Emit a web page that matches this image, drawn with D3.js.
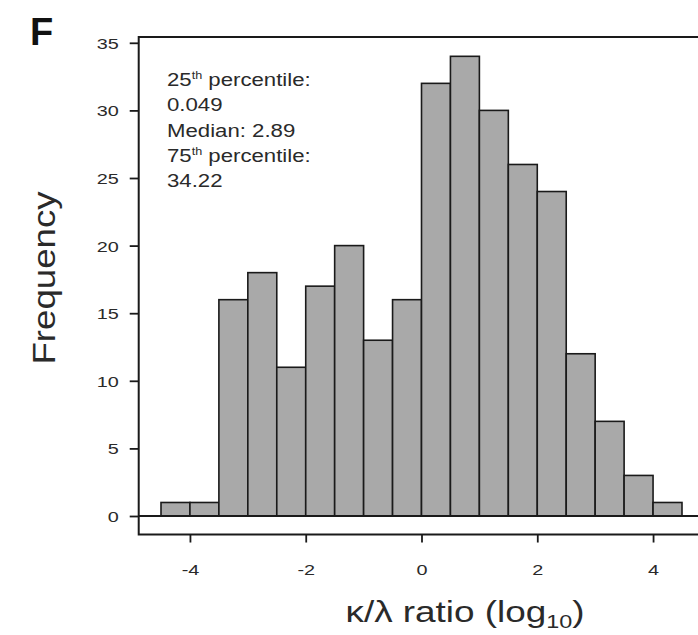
<!DOCTYPE html>
<html><head><meta charset="utf-8">
<script src="https://cdn.jsdelivr.net/npm/d3@7"></script>
<style>body{margin:0;background:#fff}svg{display:block}</style></head>
<body>
<svg id="chart" width="698" height="635"></svg>
<script>
// ---- data ----
const binEdges = [-4.5,-4,-3.5,-3,-2.5,-2,-1.5,-1,-0.5,0,0.5,1,1.5,2,2.5,3,3.5,4,4.5];
const counts   = [1,1,16,18,11,17,20,13,16,32,34,30,26,24,12,7,3,1];
const xTicks = [-4,-2,0,2,4];
const xTickLabels = ["-4","-2","0","2","4"];
const yTicks = [0,5,10,15,20,25,30,35];
const yTickLabels = ["0","5","10","15","20","25","30","35"];
const annotationLines = [
  {pre:"25", sup:"th", post:" percentile:"},
  {pre:"0.049", sup:"", post:""},
  {pre:"Median: 2.89", sup:"", post:""},
  {pre:"75", sup:"th", post:" percentile:"},
  {pre:"34.22", sup:"", post:""}
];
const panelLabel = "F";
const yTitle = "Frequency";
const xTitleMain = "κ/λ ratio (log";
const xTitleSub = "10";
const xTitleEnd = ")";

// ---- layout ----
const svg = d3.select("#chart");
const FONT = "'Liberation Sans', Arial, Helvetica, sans-serif";
const SX = 1.2, SXT = 1.28;
const ink = "#1a1a1a", txt = "#2a2a2a";

const x = d3.scaleLinear().domain([-4.5, 4.5]).range([161, 682]);
const y = d3.scaleLinear().domain([0, 35]).range([516, 42.8]);
const frameX0 = x(-4.885), frameY0 = y(35.42), frameY1 = y(-1.37);

const bins = counts.map((c, i) => ({x0: binEdges[i], x1: binEdges[i+1], n: c}));

// bars
svg.append("g").selectAll("rect").data(bins).join("rect")
  .attr("x", d => x(d.x0)).attr("width", d => x(d.x1) - x(d.x0))
  .attr("y", d => y(d.n)).attr("height", d => y(0) - y(d.n))
  .attr("fill", "#a9a9a9").attr("stroke", ink).attr("stroke-width", 1.6);

// baseline at 0
svg.append("line").attr("x1", frameX0).attr("x2", 698).attr("y1", y(0)).attr("y2", y(0))
  .attr("stroke", ink).attr("stroke-width", 1.8);

// frame (left, top, bottom; right side beyond canvas)
svg.append("path")
  .attr("d", `M700,${frameY0}H${frameX0}V${frameY1}H700`)
  .attr("fill", "none").attr("stroke", ink).attr("stroke-width", 2);

// y axis
const yAxis = svg.append("g").attr("transform", `translate(${frameX0},0)`)
  .call(d3.axisLeft(y).tickValues(yTicks).tickFormat((d,i) => yTickLabels[i]).tickSize(9).tickSizeOuter(0));
yAxis.select(".domain").remove();
yAxis.selectAll(".tick line").attr("stroke", ink).attr("stroke-width", 1.8);
yAxis.selectAll(".tick text")
  .attr("x", 0).attr("dy", "0.36em")
  .attr("transform", `translate(-20,0) scale(${SXT},1)`)
  .attr("font-family", FONT).attr("font-size", 15.5).attr("fill", txt).attr("text-anchor", "end");

// x axis
const xAxis = svg.append("g").attr("transform", `translate(0,${frameY1})`)
  .call(d3.axisBottom(x).tickValues(xTicks).tickFormat((d,i) => xTickLabels[i]).tickSize(8).tickSizeOuter(0));
xAxis.select(".domain").remove();
xAxis.selectAll(".tick line").attr("stroke", ink).attr("stroke-width", 1.8);
xAxis.selectAll(".tick text")
  .attr("y", 0).attr("dy", 0)
  .attr("transform", `translate(0,40) scale(${SXT},1)`)
  .attr("font-family", FONT).attr("font-size", 15.5).attr("fill", txt).attr("text-anchor", "middle");

// annotation
const annY0 = 86, annStep = 25.3;
annotationLines.forEach((l, i) => {
  const t = svg.append("text")
    .attr("transform", `translate(167,${annY0 + i*annStep}) scale(${SX},1)`)
    .attr("font-family", FONT).attr("font-size", 18.5).attr("fill", txt);
  t.append("tspan").text(l.pre);
  if (l.sup) {
    t.append("tspan").attr("font-size", 10.5).attr("dy", -7).text(l.sup);
    t.append("tspan").attr("dy", 7).text(l.post);
  }
});

// panel label
svg.append("text").attr("x", 30).attr("y", 45)
  .attr("font-family", FONT).attr("font-weight", "bold").attr("font-size", 38)
  .attr("fill", "#111").text(panelLabel);

// y title
svg.append("text")
  .attr("transform", `translate(55,278) rotate(-90) scale(1.146,1)`)
  .attr("text-anchor", "middle")
  .attr("font-family", FONT).attr("font-size", 32).attr("fill", txt).text(yTitle);

// x title
const xt = svg.append("text")
  .attr("transform", `translate(465,622) scale(1.23,1)`)
  .attr("text-anchor", "middle")
  .attr("font-family", FONT).attr("font-size", 30).attr("fill", txt);
xt.append("tspan").text(xTitleMain);
xt.append("tspan").attr("font-size", 19).attr("dy", 6).text(xTitleSub);
xt.append("tspan").attr("dy", -6).text(xTitleEnd);
</script>
</body></html>
